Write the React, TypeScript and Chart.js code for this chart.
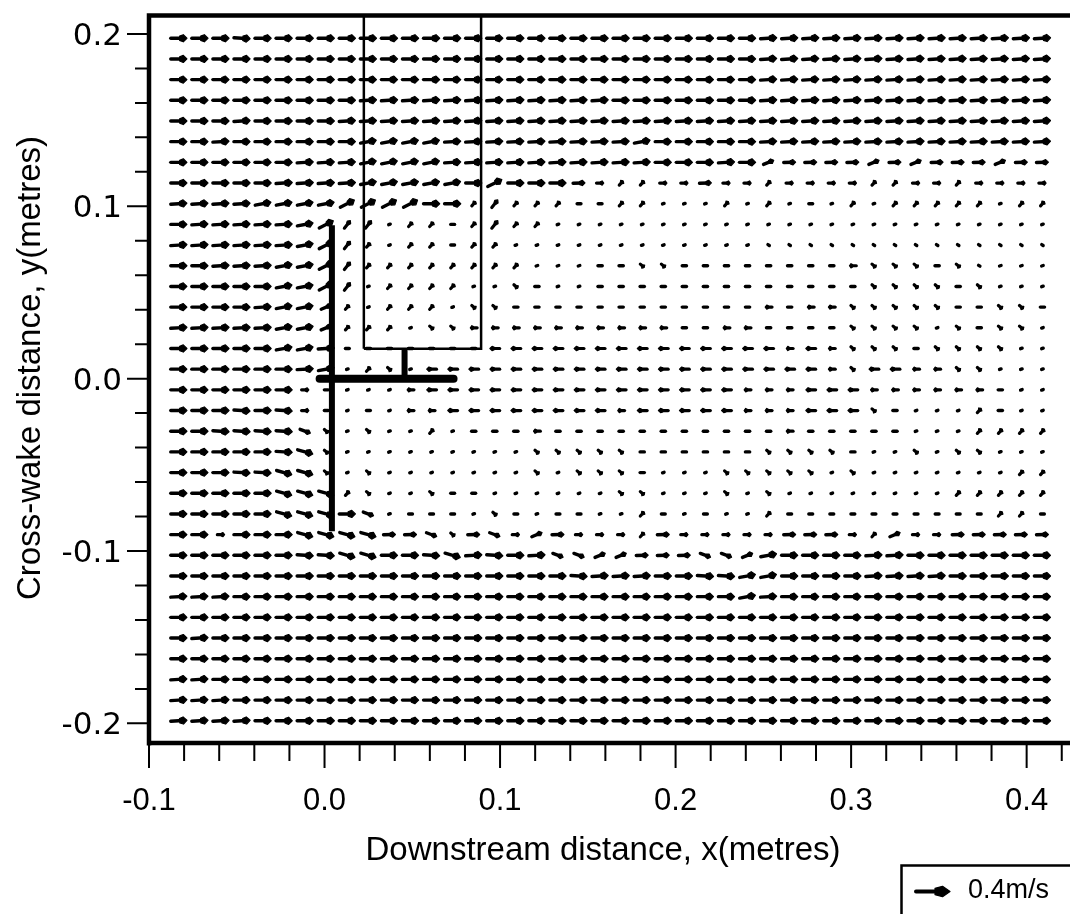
import React, { useEffect, useRef } from "react";
import { Chart, registerables } from "chart.js";

Chart.register(...registerables);

// ---- grid of measurement points (metres) ----
const X_GRID = [
  -0.083, -0.071, -0.059, -0.047, -0.035, -0.023, -0.011, 0.001, 0.013, 0.025,
  0.037, 0.049, 0.061, 0.073, 0.085, 0.097, 0.109, 0.121, 0.133, 0.145,
  0.157, 0.169, 0.181, 0.193, 0.205, 0.217, 0.229, 0.241, 0.253, 0.265,
  0.277, 0.289, 0.301, 0.313, 0.325, 0.337, 0.349, 0.361, 0.373, 0.385,
  0.397, 0.409,
];
const Y_GRID = [
  0.1975, 0.1855, 0.1735, 0.1615, 0.1495, 0.1375, 0.1255, 0.1135, 0.1015, 0.0895,
  0.0775, 0.0655, 0.0535, 0.0415, 0.0295, 0.0175, 0.0055, -0.0065, -0.0185, -0.0305,
  -0.0425, -0.0545, -0.0665, -0.0785, -0.0905, -0.1025, -0.1145, -0.1265, -0.1385, -0.1505,
  -0.1625, -0.1745, -0.1865, -0.1985,
];

// velocity glyph codes read arrow by arrow (one char per grid column)
const UPPER_ROWS = [
  "FFFeFFFFFF" + "FFFFFFFFFF" + "FFFFFFFF" + "ffffffffff" + "ffff",
  "FFFFFFFFFF" + "FFFFFFFFFF" + "FFFFFFFF" + "ffffffffff" + "ffff",
  "FFFFFFFFFF" + "FFFFFFFFFF" + "FFFFFFFF" + "ffffffffff" + "ffff",
  "FFFFFFFFFf" + "ffffffffff" + "fFFFFFFF" + "ffffffffff" + "ffff",
  "FFFfFFFFff" + "ffffffffff" + "ffffffff" + "ffffffffff" + "ffff",
  "FFfFFFFFFg" + "gggfffffff" + "ffgFFFFF" + "ffffffffff" + "ffff",
  "FFFFFFfffg" + "gggfffffff" + "fffFFFfF" + "NMMMMNMNMM" + "MNMM",
  "FFFFFffffg" + "ggggFGFFFM" + "S//SSMSS" + "/SSSS//SS/" + "SSSS",
  "ffffggggGG" + "GGFF/P///s" + "s//.../." + "/.s././///" + "/.//",
  "FfffffgGPP" + ".//s/P//.." + "........" + ".........." + "....",
  "ffffffgGP/" + ".//s//...." + "........" + ",,,,,,,,,," + ",,,,",
];
const WAKE_ROWS = [
  "FFfffggGP/" + "///////..." + "kkvvkkkk" + "kkkklvvvkv" + ",...",
  "FFFFFggGP." + "////..vk.." + "kkkkkkkk" + "kkkkkvvvvk" + "v...",
  "FFFFfggN/." + "///.vvkkkk" + "kkkkkkkk" + "lkllvvvvvk" + "kvvk",
  "fffffggN//" + "/.vvllllll" + "llllkkll" + "kkkkvvvv.v" + "kvv.",
  "FFFFFggfsk" + "kkkkkLLLLL" + "LLLLLLLL" + "LlLlvvvkvv" + "vv..",
  "FFFFFFfg./" + "v.LLLLLLLL" + "LLLLLLLL" + "LLLlvLLllv" + "v...",
  "FFFFFFSs.." + ".lLLLLLLLL" + "LLLLLLLl" + "llLLLlllll" + "lk..",
  "FFFeFeSs.s" + ".llLLLLLLL" + "LlLLLLLl" + "llLLLvk..." + "/k..",
  "FFeeeeDv.v" + "../.kkklkk" + "kkkkkkkk" + "klkkkkk..." + "////",
  "FFFFFeEv.." + ".......vvv" + "vvkkkkkk" + "vvvvk..v.v" + "v...",
  "FFFeeEEv.v" + ".......v.v" + "vvk...vv" + "vvv.v....." + "..//",
  "FFFFFEEE/v" + "..vss....." + ".vv...v." + "v......../" + "////",
  "FFFFFEEEFD" + ".sss.vs.ss" + "../s.s.." + "/sssssssss" + "s//s",
  "FFSFFFEEEE" + "MMDvMDSNMS" + "SS/MSSSS" + "SMMMS/NSSM" + "MMMM",
];
const LOWER_ROWS = [
  "FFFFFFeeEE" + "FFeEfeFfDD" + "NNMMMDDN" + "gFFFFffFFF" + "FFFF",
  "FFFFFFFFFF" + "FFFFFFFFFe" + "fffFFeeg" + "gFFFFffffF" + "FFFF",
  "fffFFFFFFF" + "FFFFFFFFFF" + "FFFFFFFg" + "fFFFFFFFFF" + "FFFF",
  "FFFFFFFFFF" + "FFFFFFFFFF" + "FFFFFFFF" + "FFFFFFFFFF" + "FFFF",
  "FfFFFFFFFF" + "FFFFFFFFFF" + "FFFFFFFF" + "FFFFFFFFFF" + "FFFF",
  "FFFFFFFFFF" + "FFFFFFFFFF" + "FFFFFFFF" + "FFFFFFFFFF" + "FFFF",
  "ffFFFFFFFF" + "FFFFFFFFFF" + "FFFFFFFF" + "FFFFFFFFFF" + "FFFF",
  "fffFFFFFFF" + "FFFFFFFFFF" + "FFFFFFFF" + "FFFFFFFFFF" + "FFFF",
  "ffffFFFFFF" + "FFFFFFFFFF" + "FFFFFFFF" + "FFFFFFFFFF" + "FFFF",
];

// glyph code -> [u, v] in m/s
const GLYPHS: Record<string, [number, number]> = {
  F: [0.19, 0],
  f: [0.19, 0.012],
  g: [0.185, 0.035],
  G: [0.165, 0.085],
  e: [0.19, -0.012],
  E: [0.178, -0.05],
  M: [0.14, 0.004],
  N: [0.12, 0.05],
  D: [0.12, -0.045],
  S: [0.085, 0],
  s: [0.045, 0],
  P: [0.07, 0.09],
  "/": [0.045, 0.05],
  v: [0.045, -0.04],
  ".": [0.018, 0.006],
  ",": [0.016, -0.01],
  L: [-0.115, 0],
  l: [-0.08, 0],
  k: [-0.05, 0],
};

// axes
const X_MIN = -0.1;
const X_MAX = 0.4247;
const Y_MIN = -0.2114;
const Y_MAX = 0.2107;
const X_MAJOR_TICKS = [-0.1, 0.0, 0.1, 0.2, 0.3, 0.4];
const X_TICK_LABELS = ["-0.1", "0.0", "0.1", "0.2", "0.3", "0.4"];
const X_MINOR_TICKS = [-0.08, -0.06, -0.04, -0.02, 0.02, 0.04, 0.06, 0.08, 0.12, 0.14, 0.16, 0.18, 0.22, 0.24, 0.26, 0.28, 0.32, 0.34, 0.36, 0.38, 0.42];
const Y_MAJOR_TICKS = [0.2, 0.1, 0.0, -0.1, -0.2];
const Y_TICK_LABELS = ["0.2", "0.1", "0.0", "-0.1", "-0.2"];
const Y_MINOR_TICKS = [0.18, 0.16, 0.14, 0.12, 0.08, 0.06, 0.04, 0.02, -0.02, -0.04, -0.06, -0.08, -0.12, -0.14, -0.16, -0.18];
const X_TITLE = "Downstream distance, x(metres)";
const Y_TITLE = "Cross-wake distance, y(metres)";

// model outline (metres)
const RECT_X = [0.0224, 0.0224, 0.0892, 0.0892, 0.0224];
const RECT_Y = [0.0174, 0.26, 0.26, 0.0174, 0.0174];
const PLATE_X = [0.0042, 0.0042];
const PLATE_Y = [0.089, -0.0885];
const BAR_X = [-0.0028, 0.0735];
const BAR_Y = [0.0, 0.0];
const STUB_X = [0.0456, 0.0456];
const STUB_Y = [0.0, 0.0174];

// quiver scale: plot metres per (m/s)
const ARROW_SCALE = 0.04845;
const LEGEND_SPEED = 0.4;
const LEGEND_LABEL = "0.4m/s";

const ALL_ROWS = [...UPPER_ROWS, ...WAKE_ROWS, ...LOWER_ROWS];
const VELOCITY_POINTS: { x: number; y: number; u: number; v: number }[] = [];
Y_GRID.forEach((yv, r) => {
  const code = ALL_ROWS[r] || "";
  X_GRID.forEach((xv, c) => {
    const g = GLYPHS[code[c]];
    if (!g) return;
    VELOCITY_POINTS.push({ x: xv, y: yv, u: g[0], v: g[1] });
  });
});

const pts = (xs: number[], ys: number[]) => xs.map((x, i) => ({ x, y: ys[i] }));

function drawArrow(ctx: CanvasRenderingContext2D, tx: number, ty: number, hx: number, hy: number) {
  const dx = hx - tx;
  const dy = hy - ty;
  const L = Math.hypot(dx, dy);
  ctx.fillStyle = "#000";
  ctx.strokeStyle = "#000";
  if (L < 4.5) {
    ctx.lineCap = "round";
    ctx.lineWidth = 3.4;
    ctx.beginPath();
    if (L < 0.6) {
      ctx.arc((tx + hx) / 2, (ty + hy) / 2, 1.7, 0, Math.PI * 2);
      ctx.fill();
    } else {
      ctx.moveTo(tx, ty);
      ctx.lineTo(hx, hy);
      ctx.stroke();
    }
    return;
  }
  const ux = dx / L;
  const uy = dy / L;
  const nx = -uy;
  const ny = ux;
  const hl = Math.min(0.45 * L, 15);
  const hw = Math.max(4.2, Math.min(0.44 * L, 10.5));
  ctx.lineCap = "round";
  ctx.lineWidth = L > 25 ? 4 : L >= 10 ? 3.4 : 3.2;
  ctx.beginPath();
  ctx.moveTo(tx, ty);
  ctx.lineTo(hx - ux * hl * 0.6, hy - uy * hl * 0.6);
  ctx.stroke();
  const mx = hx - ux * hl * 0.5;
  const my = hy - uy * hl * 0.5;
  const bx = hx - ux * hl;
  const by = hy - uy * hl;
  ctx.beginPath();
  ctx.moveTo(hx, hy);
  ctx.lineTo(mx + (nx * hw) / 2, my + (ny * hw) / 2);
  ctx.lineTo(bx + nx * hw * 0.3, by + ny * hw * 0.3);
  ctx.lineTo(bx - nx * hw * 0.3, by - ny * hw * 0.3);
  ctx.lineTo(mx - (nx * hw) / 2, my - (ny * hw) / 2);
  ctx.closePath();
  ctx.lineJoin = "round";
  ctx.lineWidth = 1.2;
  ctx.fill();
  ctx.stroke();
}

const quiverPlugin = {
  id: "quiver",
  afterDatasetsDraw(chart: any) {
    const { ctx, chartArea, scales } = chart;
    const xs = scales.x;
    const ys = scales.y;
    const data = chart.data.datasets[0].data as any[];
    ctx.save();
    ctx.beginPath();
    ctx.rect(chartArea.left, chartArea.top, chartArea.right - chartArea.left, chartArea.bottom - chartArea.top);
    ctx.clip();
    for (const p of data) {
      const tx = xs.getPixelForValue(p.x - (p.u * ARROW_SCALE) / 2);
      const ty = ys.getPixelForValue(p.y - (p.v * ARROW_SCALE) / 2);
      const hx = xs.getPixelForValue(p.x + (p.u * ARROW_SCALE) / 2);
      const hy = ys.getPixelForValue(p.y + (p.v * ARROW_SCALE) / 2);
      drawArrow(ctx, tx, ty, hx, hy);
    }
    ctx.restore();
  },
};

const framePlugin = {
  id: "frame",
  afterDraw(chart: any) {
    const { ctx, chartArea, scales, width } = chart;
    const xs = scales.x;
    const ys = scales.y;
    const { left, top, bottom } = chartArea;
    ctx.save();
    ctx.strokeStyle = "#000";
    ctx.fillStyle = "#000";
    ctx.lineCap = "butt";
    // frame
    ctx.lineWidth = 4.5;
    ctx.beginPath();
    ctx.moveTo(left - 2.2, top);
    ctx.lineTo(width, top);
    ctx.moveTo(left, top - 2.2);
    ctx.lineTo(left, bottom + 2.4);
    ctx.moveTo(left - 2.2, bottom);
    ctx.lineTo(width, bottom);
    ctx.stroke();
    // ticks
    ctx.lineWidth = 2;
    ctx.beginPath();
    for (const t of X_MAJOR_TICKS) {
      const px = xs.getPixelForValue(t);
      ctx.moveTo(px, bottom);
      ctx.lineTo(px, bottom + 25);
    }
    for (const t of X_MINOR_TICKS) {
      const px = xs.getPixelForValue(t);
      ctx.moveTo(px, bottom);
      ctx.lineTo(px, bottom + 18);
    }
    for (const t of Y_MAJOR_TICKS) {
      const py = ys.getPixelForValue(t);
      ctx.moveTo(left, py);
      ctx.lineTo(left - 22, py);
    }
    for (const t of Y_MINOR_TICKS) {
      const py = ys.getPixelForValue(t);
      ctx.moveTo(left, py);
      ctx.lineTo(left - 14, py);
    }
    ctx.stroke();
    // tick labels
    ctx.font = '31px "Liberation Sans", Arial, sans-serif';
    ctx.textAlign = "center";
    ctx.textBaseline = "alphabetic";
    X_MAJOR_TICKS.forEach((t, i) => {
      ctx.fillText(X_TICK_LABELS[i], xs.getPixelForValue(t), 810);
    });
    ctx.font = '31px "DejaVu Sans", sans-serif';
    ctx.textAlign = "right";
    Y_MAJOR_TICKS.forEach((t, i) => {
      ctx.fillText(Y_TICK_LABELS[i], 122, ys.getPixelForValue(t) + 11);
    });
    // titles
    ctx.font = '33px "Liberation Sans", Arial, sans-serif';
    ctx.textAlign = "center";
    ctx.fillText(X_TITLE, 603, 860);
    ctx.save();
    ctx.translate(40, 368);
    ctx.rotate(-Math.PI / 2);
    ctx.fillText(Y_TITLE, 0, 0);
    ctx.restore();
    // legend
    ctx.lineWidth = 2.5;
    ctx.strokeRect(901.5, 865.5, 300, 100);
    const legLen = xs.getPixelForValue(LEGEND_SPEED * ARROW_SCALE) - xs.getPixelForValue(0);
    drawArrow(ctx, 916, 891.5, 916 + legLen, 891.5);
    ctx.font = '27px "Liberation Sans", Arial, sans-serif';
    ctx.textAlign = "left";
    ctx.fillText(LEGEND_LABEL, 968, 898);
    ctx.restore();
  },
};

export default function App() {
  const ref = useRef<HTMLCanvasElement | null>(null);
  useEffect(() => {
    if (!ref.current) return;
    const lineDs = (label: string, xs: number[], ys: number[], w: number, cap: string) => ({
      label,
      data: pts(xs, ys),
      showLine: true,
      borderColor: "#000",
      backgroundColor: "#000",
      borderWidth: w,
      borderCapStyle: cap,
      borderJoinStyle: "miter",
      pointRadius: 0,
      fill: false,
      tension: 0,
    });
    const chart = new Chart(ref.current, {
      type: "scatter",
      data: {
        datasets: [
          { label: "velocity", data: VELOCITY_POINTS, pointRadius: 0, showLine: false } as any,
          lineDs("window", RECT_X, RECT_Y, 2.5, "butt"),
          lineDs("plate", PLATE_X, PLATE_Y, 6, "butt"),
          lineDs("bar", BAR_X, BAR_Y, 8, "round"),
          lineDs("stub", STUB_X, STUB_Y, 6, "butt"),
        ] as any,
      },
      options: {
        animation: false,
        responsive: false,
        events: [],
        layout: { padding: { left: 149, top: 15.5, right: 0, bottom: 171 } },
        scales: {
          x: { type: "linear", min: X_MIN, max: X_MAX, display: false },
          y: { type: "linear", min: Y_MIN, max: Y_MAX, display: false },
        },
        plugins: { legend: { display: false }, tooltip: { enabled: false } },
      } as any,
      plugins: [quiverPlugin, framePlugin],
    });
    return () => chart.destroy();
  }, []);
  return (
    <div style={{ position: "absolute", left: 0, top: 0, width: 1070, height: 914, background: "#fff" }}>
      <canvas ref={ref} width={1070} height={914} style={{ display: "block" }} />
    </div>
  );
}
